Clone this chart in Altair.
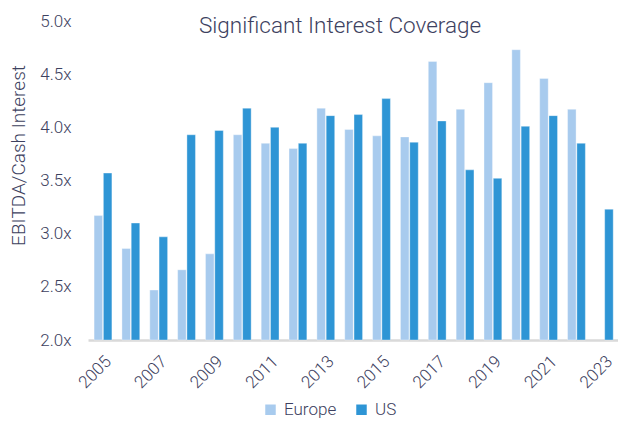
import altair as alt
import pandas as pd

years = [str(y) for y in range(2005, 2024)]
europe = [3.17, 2.86, 2.47, 2.66, 2.81, 3.93, 3.85, 3.80, 4.18, 3.98, 3.92, 3.91,
          4.62, 4.17, 4.42, 4.73, 4.46, 4.17, None]
us = [3.57, 3.10, 2.97, 3.93, 3.97, 4.18, 4.00, 3.85, 4.11, 4.12, 4.27, 3.86,
      4.06, 3.60, 3.52, 4.01, 4.11, 3.85, 3.23]
series = ["Europe", "US"]
colors = ["#a8cbee", "#2e95d5"]
tick_years = years[::2]

rows = []
for i, y in enumerate(years):
    if europe[i] is not None:
        rows.append({"year": y, "series": "Europe", "value": europe[i]})
    if us[i] is not None:
        rows.append({"year": y, "series": "US", "value": us[i]})
df = pd.DataFrame(rows)

txt = "#3d4160"

chart = alt.Chart(df).mark_bar(stroke="white", strokeWidth=0.6, strokeOpacity=0.6).encode(
    x=alt.X("year:N", sort=years,
            scale=alt.Scale(domain=years, paddingInner=0.36, paddingOuter=0.195, align=0.56),
            axis=alt.Axis(title=None, labelAngle=-45, values=tick_years, ticks=False,
                          labelFontSize=17, labelColor=txt, labelPadding=13, labelFontWeight=300,
                          domainColor="#d9d9d9", domainWidth=2.5)),
    xOffset=alt.XOffset("series:N", sort=series, scale=alt.Scale(paddingInner=0.08)),
    y=alt.Y("value:Q", scale=alt.Scale(domain=[2, 5], zero=False, nice=False),
            axis=alt.Axis(title="EBITDA/Cash Interest", values=[2, 2.5, 3, 3.5, 4, 4.5, 5],
                          labelExpr="format(datum.value, '.1f') + 'x'",
                          grid=False, domain=False, ticks=False, labelPadding=17,
                          labelFontSize=17, labelColor=txt, labelFontWeight=300,
                          titleFontSize=19, titleFontWeight=300, titleColor=txt,
                          titleAngle=270, titleBaseline="middle", titleAlign="center",
                          titleX=-70, titleY=134)),
    y2=alt.datum(2),
    color=alt.Color("series:N", sort=series, scale=alt.Scale(domain=series, range=colors),
                    legend=alt.Legend(title=None, orient="none", direction="horizontal",
                                      legendX=174, legendY=380, symbolType="square",
                                      symbolSize=110, labelFontSize=17, labelColor=txt,
                                      labelFontWeight=300,
                                      symbolStrokeWidth=0, columnPadding=16, labelOffset=5)),
).properties(
    width=530,
    height=319,
    title=alt.TitleParams("Significant Interest Coverage", fontSize=22.5, fontWeight=300,
                          color=txt, anchor="middle", dx=-13, offset=-25),
    autosize=alt.AutoSizeParams(type="none"),
    padding={"left": 80, "top": 13, "right": 0, "bottom": 78},
).configure(font="Roboto").configure_view(stroke=None)

chart.save("out.html", embed_options={"renderer": "svg", "actions": False})
